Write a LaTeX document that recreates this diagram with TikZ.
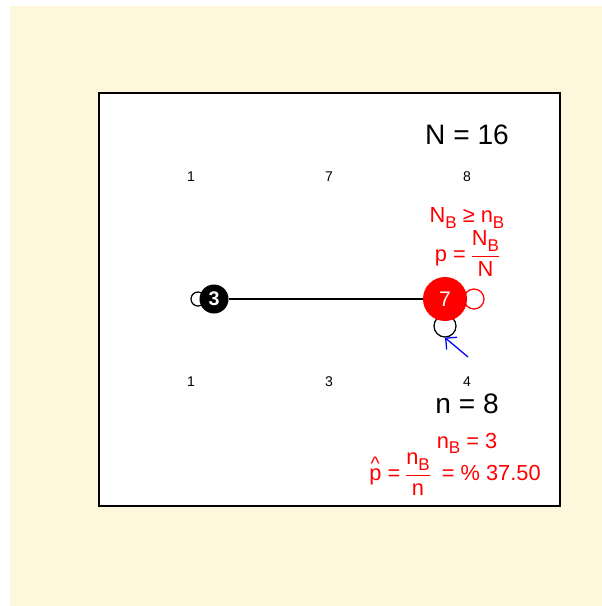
\documentclass[tikz,border=0pt]{standalone}
\usepackage{fontspec}
\setmainfont{Liberation Sans}
\usetikzlibrary{arrows.meta}
\definecolor{cream}{RGB}{255,247,220}
\definecolor{hot}{RGB}{255,0,0}
\definecolor{pen}{RGB}{0,0,255}
% stacked fraction in text font
\newcommand{\fracbox}[2]{\setlength{\arrayrulewidth}{0.6pt}%
  \begin{tabular}{@{}c@{}}#1\\[2pt]\hline\noalign{\vskip1pt}#2\end{tabular}}
\newcommand{\subB}{\raisebox{-0.45ex}{\scalebox{0.78}{B}}}
\newcommand{\phat}{p\llap{\raisebox{0.8ex}{\scalebox{0.9}{\textasciicircum}}\kern0.08em}}
\tikzset{
  >={Straight Barb[length=2mm]},
  vert/.style={circle,fill=#1,text=white,inner sep=0pt},
  vert/.default=black,
  loopc/.style={circle,draw=#1,line width=0.9pt,inner sep=0pt},
  loopc/.default=black,
  tick/.style={font=\fontsize{10}{12}\selectfont},
  count/.style={font=\fontsize{20}{24}\selectfont},
  stat/.style={font=\fontsize{15.5}{18}\selectfont,text=hot,inner sep=0pt},
}
\begin{document}
\begin{tikzpicture}[x=0.025cm,y=-0.025cm]
    \useasboundingbox (0,0) rectangle (602,606);
    % frame
    \fill[cream] (10,6) rectangle (602,606);
    \fill[white,draw=black,line width=0.8pt] (99,93) rectangle (560,506);
    % loops (behind the vertices)
    \node[loopc,minimum size=0.35cm] (lp3) at (198,299) {};
    \node[loopc=hot,minimum size=0.5cm] (lp7r) at (474,299) {};
    \node[loopc,minimum size=0.55cm] (lp7b) at (445,326) {};
    % vertices and edge
    \node[vert,minimum size=0.725cm,font=\fontsize{14}{16}\selectfont\bfseries] (v3) at (214,299) {3};
    \node[vert=hot,minimum size=1.1cm,font=\fontsize{15}{17}\selectfont] (v7) at (445,299) {7};
    \draw[line width=1.5pt] (v3) -- (v7);
    \coordinate (tail) at (468,357);
    \draw[->,pen,line width=0.9pt] (tail) -- (lp7b.south);
    % counts above and below
    \node[tick] (t1) at (191,177) {1};
    \node[tick] (t2) at (329,177) {7};
    \node[tick] (t3) at (467,177) {8};
    \node[tick] (b1) at (191,382) {1};
    \node[tick] (b2) at (329,382) {3};
    \node[tick] (b3) at (467,382) {4};
    % statistics
    \node[count] (popN) at (467,135) {N = 16};
    \node[stat] (cond) at (467,218) {N\subB{} ≥ n\subB};
    \node[stat] (prop) at (467,256) {p = \fracbox{N\subB}{N}};
    \node[count] (samp) at (467,404) {n = 8};
    \node[stat] (nb) at (467,443) {n\subB{} = 3};
    \node[stat] (est) at (455,475) {\phat{} = \fracbox{n\subB}{n}\ \ = \% 37.50};
  \end{tikzpicture}
\end{document}
